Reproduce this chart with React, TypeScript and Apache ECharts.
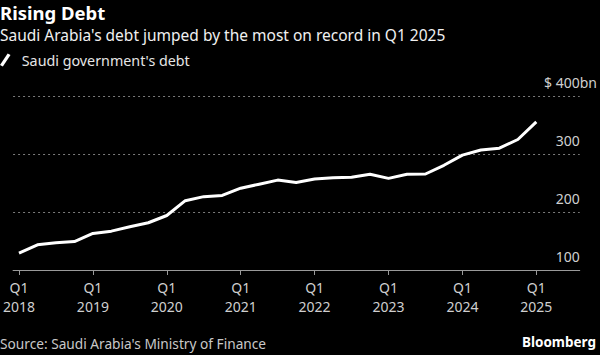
import React, { useEffect, useRef } from "react";
import * as echarts from "echarts";

const quarters = [
  "Q1 2018", "Q2 2018", "Q3 2018", "Q4 2018",
  "Q1 2019", "Q2 2019", "Q3 2019", "Q4 2019",
  "Q1 2020", "Q2 2020", "Q3 2020", "Q4 2020",
  "Q1 2021", "Q2 2021", "Q3 2021", "Q4 2021",
  "Q1 2022", "Q2 2022", "Q3 2022", "Q4 2022",
  "Q1 2023", "Q2 2023", "Q3 2023", "Q4 2023",
  "Q1 2024", "Q2 2024", "Q3 2024", "Q4 2024",
  "Q1 2025",
];

const debtValues = [
  129, 143.5, 147, 149, 163, 167, 174.5, 181.5,
  194, 219.5, 226.5, 228.5, 241, 248, 255, 251,
  257, 259, 260, 265, 258, 265, 265.5, 280.5,
  298, 307, 310, 325, 355.5,
];

const tickPositions = [0, 4, 8, 12, 16, 20, 24, 28];
const tickLabels = ["Q1\n2018", "Q1\n2019", "Q1\n2020", "Q1\n2021", "Q1\n2022", "Q1\n2023", "Q1\n2024", "Q1\n2025"];

const FONT = "'Noto Sans', sans-serif";
const Y_FONT_SIZE = 14;

function measure(text: string, size: number): number {
  const c = document.createElement("canvas").getContext("2d");
  if (!c) return text.length * size * 0.57;
  c.font = `${size}px 'Noto Sans', sans-serif`;
  return c.measureText(text).width;
}

export default function App() {
  const ref = useRef<HTMLDivElement>(null);
  useEffect(() => {
    document.body.style.margin = "0";
    const chart = echarts.init(ref.current!, null, { renderer: "svg" });
    const data = debtValues.map((v, i) => [i, v]);
    const topLabelOffset = measure("$ 400", Y_FONT_SIZE);
    const yCommon = {
      type: "value",
      position: "right",
      min: 100,
      max: 400,
      interval: 100,
      axisLine: { show: false },
      axisTick: { show: false },
    };
    chart.setOption({
      animation: false,
      backgroundColor: "#000000",
      textStyle: { fontFamily: FONT },
      title: [
        {
          text: "Rising Debt",
          subtext: "Saudi Arabia's debt jumped by the most on record in Q1 2025",
          left: 0,
          top: 3,
          padding: 0,
          itemGap: 5,
          textStyle: { color: "#ffffff", fontSize: 18.5, fontWeight: "bold", fontFamily: FONT },
          subtextStyle: { color: "#f0f0f0", fontSize: 15.5, fontFamily: FONT },
        },
        {
          text: "Source: Saudi Arabia's Ministry of Finance",
          left: 0,
          top: 336,
          padding: 0,
          textStyle: { color: "#c8c8c8", fontSize: 13.7, fontWeight: "normal", fontFamily: FONT },
        },
        {
          text: "Bloomberg",
          right: 4,
          top: 335,
          padding: 0,
          textStyle: { color: "#ffffff", fontSize: 13.5, fontWeight: "bold", fontFamily: FONT },
        },
      ],
      legend: {
        left: 0,
        top: 53,
        padding: 0,
        itemWidth: 11,
        itemHeight: 13,
        itemGap: 10,
        icon: "path://M0,12 L8,0 L11,1.6 L3,13.6 Z",
        textStyle: { color: "#e6e6e6", fontSize: 14.3, fontFamily: FONT, padding: [0, 0, 0, 6] },
        data: [{ name: "Saudi government's debt", itemStyle: { color: "#ffffff" } }],
      },
      grid: { left: 8, right: 17, top: 96, bottom: 85, containLabel: false },
      xAxis: {
        type: "value",
        min: -0.32,
        max: 30.35,
        splitLine: { show: false },
        axisLine: { show: true, lineStyle: { color: "#9a9a9a", width: 1 } },
        axisTick: {
          show: true,
          customValues: tickPositions,
          length: 5,
          lineStyle: { color: "#9a9a9a" },
        },
        axisLabel: {
          customValues: tickPositions,
          formatter: (v: number) => tickLabels[tickPositions.indexOf(Math.round(v))] ?? "",
          color: "#cfcfcf",
          fontSize: 14,
          lineHeight: 19,
          margin: 8,
          fontFamily: FONT,
        },
      },
      yAxis: [
        {
          ...yCommon,
          splitLine: { show: true, lineStyle: { color: "#7a7a7a", type: [2, 3], width: 1 } },
          axisLabel: {
            inside: true,
            margin: 0,
            verticalAlign: "bottom",
            padding: [0, 0, 7, 0],
            color: "#cfcfcf",
            fontSize: Y_FONT_SIZE,
            fontFamily: FONT,
            formatter: (v: number) => (v === 400 ? "" : String(v)),
          },
        },
        {
          ...yCommon,
          splitLine: { show: false },
          axisLabel: {
            inside: true,
            margin: topLabelOffset,
            align: "left",
            verticalAlign: "bottom",
            padding: [0, 0, 7, 0],
            color: "#cfcfcf",
            fontSize: Y_FONT_SIZE,
            fontFamily: FONT,
            formatter: (v: number) => (v === 400 ? "$ 400bn" : ""),
          },
        },
      ],
      series: [
        {
          name: "Saudi government's debt",
          type: "line",
          data,
          yAxisIndex: 0,
          showSymbol: false,
          symbol: "none",
          lineStyle: { color: "#ffffff", width: 3 },
          itemStyle: { color: "#ffffff" },
        },
      ],
    });
    return () => chart.dispose();
  }, []);
  return <div ref={ref} style={{ width: 600, height: 355, position: "absolute", left: 0, top: 0 }} />;
}
